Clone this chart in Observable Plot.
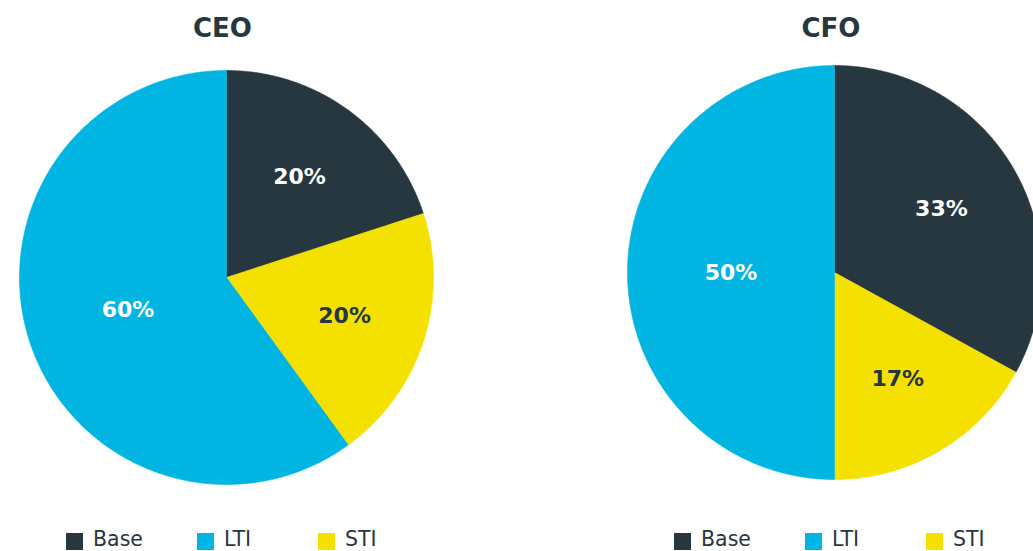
<!DOCTYPE html>
<html>
<head>
<meta charset="utf-8">
<script src="https://cdn.jsdelivr.net/npm/d3@7"></script>
<script src="https://cdn.jsdelivr.net/npm/@observablehq/plot@0.6"></script>
<style>
  html, body { margin: 0; padding: 0; background: #fff; }
  body { width: 1033px; height: 551px; overflow: hidden; position: relative; font-family: "DejaVu Sans", sans-serif; color: #263740; }
  .title { position: absolute; width: 200px; text-align: center; font-weight: bold; font-size: 26px; line-height: 26px; color: #263740; }
  .pie { position: absolute; }
  .pie svg { overflow: visible; background: transparent; max-width: none !important; }
  .sw { position: absolute; width: 17px; height: 17px; }
  .lt { position: absolute; font-size: 20.5px; line-height: 17px; color: #263740; white-space: nowrap; }
</style>
</head>
<body>
<div id="root"></div>
<script>
// ---- Data ----
const charts = ["CEO", "CFO"];
const sliceOrder = ["Base", "STI", "LTI"];      // clockwise from 12 o'clock
const ceoShares = [20, 20, 60];
const cfoShares = [33, 17, 50];
const legendKeys = ["Base", "LTI", "STI"];
const sliceColors = ["#263740", "#F5E100", "#00B5E2"]; // Base, STI, LTI
const labelColors = ["#ffffff", "#263740", "#ffffff"];

// ---- Layout (pixels) ----
const R = 207, M = 2, S = 2 * R + 2 * M;
const layout = {
  CEO: {cx: 225.5, cy: 276.5, legendX: 66},
  CFO: {cx: 834, cy: 272, legendX: 674}
};
const legendOffsets = [0, 131, 252];

function slicesFor(shares) {
  const total = d3.sum(shares);
  let acc = 0;
  return shares.map((v, i) => {
    const a0 = acc / total * 2 * Math.PI;
    acc += v;
    const a1 = acc / total * 2 * Math.PI;
    return {key: sliceOrder[i], value: v, frac: v / total, a0, a1};
  });
}

function polygonPoints(slices) {
  const pts = [];
  for (const s of slices) {
    pts.push({key: s.key, x: 0, y: 0});
    const n = Math.max(2, Math.ceil((s.a1 - s.a0) / (Math.PI / 360)));
    for (let k = 0; k <= n; k++) {
      const a = s.a0 + (s.a1 - s.a0) * k / n;
      pts.push({key: s.key, x: Math.sin(a), y: Math.cos(a)});
    }
    pts.push({key: s.key, x: 0, y: 0});
  }
  return pts;
}

function labelPoints(slices) {
  return slices.map(s => {
    const m = (s.a0 + s.a1) / 2;
    const f = s.frac > 0.4 ? 0.5 : 0.6;
    return {key: s.key, text: `${s.value}%`, x: f * Math.sin(m), y: f * Math.cos(m)};
  });
}

const root = document.getElementById("root");
const shareSets = {CEO: ceoShares, CFO: cfoShares};

for (const name of charts) {
  const L = layout[name];
  const slices = slicesFor(shareSets[name]);

  const title = document.createElement("div");
  title.className = "title";
  title.textContent = name;
  title.style.left = (L.cx - 3 - 100) + "px";
  title.style.top = "15px";
  root.appendChild(title);

  const chart = Plot.plot({
    width: S, height: S,
    marginTop: M, marginBottom: M, marginLeft: M, marginRight: M,
    x: {domain: [-1, 1], axis: null},
    y: {domain: [-1, 1], axis: null},
    color: {domain: sliceOrder, range: sliceColors},
    style: {background: "transparent", overflow: "visible", maxWidth: "none"},
    marks: [
      Plot.line(polygonPoints(slices), {
        x: "x", y: "y", z: "key", fill: "key", stroke: "key", strokeWidth: 0.6, curve: "linear"
      }),
      Plot.text(labelPoints(slices), {
        x: "x", y: "y", text: "text",
        fill: d => labelColors[sliceOrder.indexOf(d.key)],
        fontSize: 22, fontWeight: "bold", fontFamily: "DejaVu Sans",
        textAnchor: "middle", lineAnchor: "middle"
      })
    ]
  });
  const wrap = document.createElement("div");
  wrap.className = "pie";
  wrap.style.left = (L.cx - S / 2) + "px";
  wrap.style.top = (L.cy - S / 2) + "px";
  wrap.style.width = S + "px";
  wrap.style.height = S + "px";
  wrap.appendChild(chart);
  root.appendChild(wrap);

  legendKeys.forEach((k, i) => {
    const sw = document.createElement("div");
    sw.className = "sw";
    sw.style.left = (L.legendX + legendOffsets[i]) + "px";
    sw.style.top = "533px";
    sw.style.background = sliceColors[sliceOrder.indexOf(k)];
    root.appendChild(sw);
    const t = document.createElement("div");
    t.className = "lt";
    t.textContent = k;
    t.style.left = (L.legendX + legendOffsets[i] + 27) + "px";
    t.style.top = "530.5px";
    root.appendChild(t);
  });
}
</script>
</body>
</html>
